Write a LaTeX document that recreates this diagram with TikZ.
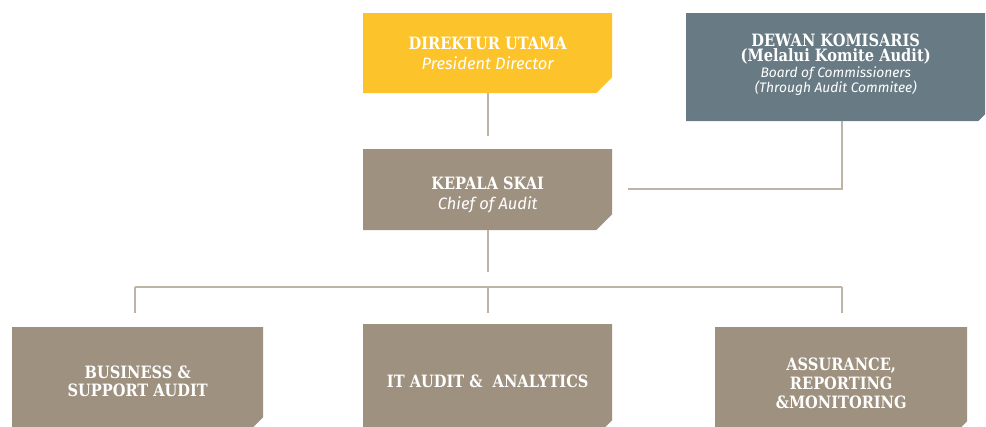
\documentclass[tikz,border=0pt]{standalone}
\usepackage{fontspec}
\setmainfont{Fira Sans}
\newfontfamily\titlefont{DejaVu Serif}[FakeStretch=0.86]
\newfontfamily\subfont{Fira Sans}
\definecolor{cyellow}{HTML}{FDC32A}
\definecolor{cslate}{HTML}{687B85}
\definecolor{ctaupe}{HTML}{9E9180}
\definecolor{cline}{HTML}{BDB3A7}
\tikzset{
  cbox/.style n args={2}{draw=none, inner sep=0pt, anchor=north west, align=center, text=white,
    font=\fontsize{17}{19}\selectfont,
    path picture={\fill[#1] (path picture bounding box.north west) -- (path picture bounding box.north east)
      -- ([yshift=#2]path picture bounding box.south east) -- ([xshift=-#2]path picture bounding box.south east)
      -- (path picture bounding box.south west) -- cycle;}},
  conn/.style={draw=cline, line width=1.4pt},
}
\newcommand{\ttlt}[1]{{\titlefont\bfseries\fontsize{17}{\baselineskip}\selectfont #1}}
\newcommand{\subt}[1]{{\subfont\itshape\fontsize{16.5}{\baselineskip}\selectfont #1}}
\newcommand{\subs}[1]{{\subfont\itshape\fontsize{13.8}{\baselineskip}\selectfont #1}}
\begin{document}
\begin{tikzpicture}[x=1pt,y=-1pt]
\useasboundingbox[fill=white] (0,0) rectangle (986,427);
% boxes
\node[cbox={cyellow}{16pt}, minimum width=249pt, minimum height=80pt, font=\fontsize{17}{20}\selectfont] (dir) at (363,13)
  {\ttlt{DIREKTUR UTAMA}\\\subt{President Director}};
\node[cbox={cslate}{7pt}, minimum width=299pt, minimum height=108pt, font=\fontsize{17}{15.3}\selectfont] (dew) at (686,13)
  {\ttlt{DEWAN KOMISARIS}\\\ttlt{(Melalui Komite Audit)}\\\subs{Board of Commissioners}\\\subs{(Through Audit Commitee)}\\[-7pt]\mbox{}};
\node[cbox={ctaupe}{16pt}, minimum width=249pt, minimum height=81pt, font=\fontsize{17}{20}\selectfont] (kep) at (363,149)
  {\vphantom{Ag}\\[-8pt]\ttlt{KEPALA SKAI}\\\subt{Chief of Audit}};
\node[cbox={ctaupe}{18pt}, minimum width=251pt, minimum height=108pt, font=\fontsize{17}{18}\selectfont] (b1) at (12,327)
  {\ttlt{BUSINESS \&}\\\ttlt{SUPPORT AUDIT}};
\node[cbox={ctaupe}{18pt}, minimum width=249pt, minimum height=114pt] (b2) at (363,324)
  {\ttlt{IT AUDIT \&\ \ ANALYTICS}};
\node[cbox={ctaupe}{18pt}, minimum width=252pt, minimum height=112pt] (b3) at (715,327)
  {\ttlt{ASSURANCE,}\\\ttlt{REPORTING}\\\ttlt{\&MONITORING}};
% connector end points
\coordinate (d1) at (488,136);
\coordinate (k1) at (628,189);
\coordinate (k2) at (488,272);
\coordinate (hl) at (135,287);
\coordinate (hm) at (488,287);
\coordinate (hr) at (842,287);
\coordinate (e1) at (135,313);
\coordinate (e2) at (488,313);
\coordinate (e3) at (842,313);
% connectors
\draw[conn] (dir.south -| d1) -- (d1);
\draw[conn] (k1) -| (dew.south -| hr);
\draw[conn] (kep.south -| k2) -- (k2);
\draw[conn] (hl) -- (hr);
\draw[conn] (hl) -- (e1);
\draw[conn] (hm) -- (e2);
\draw[conn] (hr) -- (e3);
\end{tikzpicture}
\end{document}
